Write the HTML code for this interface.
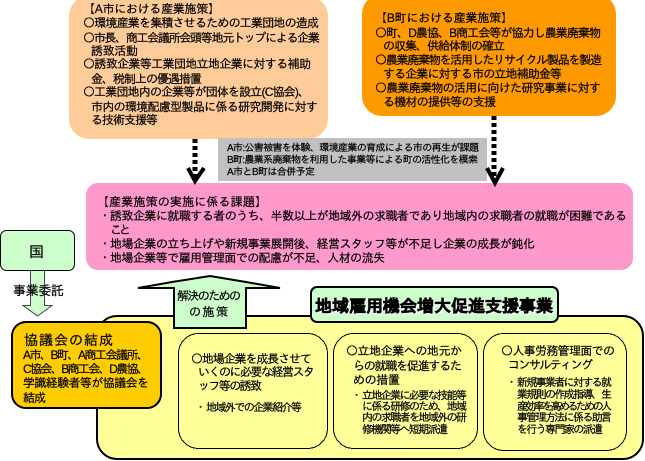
<!DOCTYPE html>
<html lang="ja">
<head>
<meta charset="utf-8">
<title>地域雇用機会増大促進支援事業</title>
<style>
html,body{margin:0;padding:0;background:#fff;width:645px;height:461px;overflow:hidden}
svg{display:block}
text{font-family:"Liberation Sans","IPAGothic","Noto Sans CJK JP",sans-serif;font-size:12px;fill:#000;stroke:#000;stroke-width:.2px}
.g{font-size:10px}
.s{font-size:11px}
.m{font-size:13px}
.k{font-size:15px}
.l{font-size:14px}
.t{font-size:17px;font-weight:bold;stroke:#000;stroke-width:.6px}
.h{font-size:17px;font-weight:bold;fill:#fff;stroke:#fff;stroke-width:1px}
.b{stroke:#000}
</style>
</head>
<body>
<svg width="645" height="461" viewBox="0 0 645 461" xmlns="http://www.w3.org/2000/svg">
<rect width="645" height="461" fill="#fff"/>

<!-- top boxes -->
<rect x="69" y="-4" width="259" height="143" rx="20" fill="#FFCC99"/>
<rect x="362" y="-6" width="254" height="122" rx="20" fill="#FF9900"/>

<!-- grey note -->
<rect x="218" y="138" width="269" height="43" fill="#C0C0C0"/>

<!-- pink -->
<rect x="86" y="183" width="547" height="87" rx="12" fill="#FF99CC"/>

<!-- dotted arrows -->
<line x1="195" y1="139" x2="195" y2="180" stroke="#000" stroke-width="5" stroke-dasharray="4 3"/>
<polyline points="188,168 195,181 204,168" fill="none" stroke="#000" stroke-width="4"/>
<line x1="494" y1="116" x2="494" y2="180" stroke="#000" stroke-width="5" stroke-dasharray="4 3"/>
<polyline points="487,168 495,183 503,168" fill="none" stroke="#000" stroke-width="4"/>

<!-- yellow panel -->
<rect x="97" y="316" width="546" height="143" rx="20" fill="#FFFF99" stroke="#000" stroke-width="2"/>

<!-- 国 box and arrow -->
<polygon points="30.5,270 44.5,270 44.5,305.5 52,305.5 37.5,316 23,305.5 30.5,305.5" fill="#CCFFCC" stroke="#444" stroke-width="1"/>
<rect x="0.5" y="230.5" width="74" height="40" rx="6" fill="#CCFFCC" stroke="#000" stroke-width="1"/>

<!-- orange box -->
<rect x="12" y="322" width="149" height="86" rx="14" fill="#FFCC00" stroke="#000" stroke-width="2"/>

<!-- up arrow -->
<polygon points="174,328 174,288 138,288 172,282 210,276 246,282 280,288 246,288 246,328" fill="#CCFFCC" stroke="#000" stroke-width="2" stroke-linejoin="miter"/>

<!-- title box -->
<rect x="311" y="287" width="247" height="35" rx="6" fill="#CCFFCC" stroke="#000" stroke-width="2"/>

<!-- inner rounded boxes -->
<rect x="178.5" y="333.5" width="149" height="115" rx="20" fill="#FFFF99" stroke="#000" stroke-width="1" shape-rendering="crispEdges"/>
<rect x="333.5" y="333.5" width="144" height="115" rx="20" fill="#FFFF99" stroke="#000" stroke-width="1" shape-rendering="crispEdges"/>
<rect x="483.5" y="333.5" width="143" height="117" rx="20" fill="#FFFF99" stroke="#000" stroke-width="1" shape-rendering="crispEdges"/>

<!-- A -->
<text x="83" y="13" textLength="137" lengthAdjust="spacing">【A市における産業施策】</text>
<text x="83" y="27" textLength="236" lengthAdjust="spacing">〇環境産業を集積させるための工業団地の造成</text>
<text x="83" y="42" textLength="237" lengthAdjust="spacing">〇市長、商工会議所会頭等地元トップによる企業</text>
<text x="91" y="55" textLength="47" lengthAdjust="spacing">誘致活動</text>
<text x="83" y="68" textLength="228" lengthAdjust="spacing">〇誘致企業等工業団地立地企業に対する補助</text>
<text x="91" y="83" textLength="111" lengthAdjust="spacing">金、税制上の優遇措置</text>
<text x="83" y="96" textLength="227" lengthAdjust="spacing">〇工業団地内の企業等が団体を設立(C協会)、</text>
<text x="91" y="111" textLength="227" lengthAdjust="spacing">市内の環境配慮型製品に係る研究開発に対す</text>
<text x="91" y="124" textLength="67" lengthAdjust="spacing">る技術支援等</text>

<!-- B -->
<text x="375" y="22" textLength="138" lengthAdjust="spacing">【B町における産業施策】</text>
<text x="375" y="37" textLength="226" lengthAdjust="spacing">〇町、D農協、B商工会等が協力し農業廃棄物</text>
<text x="383" y="50" textLength="122" lengthAdjust="spacing">の収集、供給体制の確立</text>
<text x="375" y="64" textLength="227" lengthAdjust="spacing">〇農業廃棄物を活用したリサイクル製品を製造</text>
<text x="383" y="78" textLength="179" lengthAdjust="spacing">する企業に対する市の立地補助金等</text>
<text x="375" y="92" textLength="226" lengthAdjust="spacing">〇農業廃棄物の活用に向けた研究事業に対す</text>
<text x="383" y="106" textLength="113" lengthAdjust="spacing">る機材の提供等の支援</text>

<!-- grey -->
<text class="g" x="227" y="151" textLength="252" lengthAdjust="spacing">A市:公害被害を体験、環境産業の育成による市の再生が課題</text>
<text class="g" x="227" y="163" textLength="251" lengthAdjust="spacing">B町:農業系廃棄物を利用した事業等による町の活性化を模索</text>
<text class="g" x="227" y="175" textLength="88" lengthAdjust="spacing">A市とB町は合併予定</text>

<!-- pink text -->
<text x="97" y="206" textLength="170" lengthAdjust="spacing">【産業施策の実施に係る課題】</text>
<text x="99" y="220">・</text>
<text x="110" y="220" textLength="517" lengthAdjust="spacing">誘致企業に就職する者のうち、半数以上が地域外の求職者であり地域内の求職者の就職が困難である</text>
<text x="110" y="234" textLength="21" lengthAdjust="spacing">こと</text>
<text x="99" y="248">・</text>
<text x="110" y="248" textLength="425" lengthAdjust="spacing">地場企業の立ち上げや新規事業展開後、経営スタッフ等が不足し企業の成長が鈍化</text>
<text x="99" y="262">・</text>
<text x="110" y="262" textLength="275" lengthAdjust="spacing">地場企業等で雇用管理面での配慮が不足、人材の流失</text>

<!-- left -->
<text class="k" x="29" y="257">国</text>
<text class="m" x="13" y="295" textLength="51" lengthAdjust="spacing">事業委託</text>
<text class="l" x="24" y="345" textLength="89" lengthAdjust="spacing">協議会の結成</text>
<text x="23" y="359" textLength="126" lengthAdjust="spacing">A市、B町、A商工会議所、</text>
<text x="23" y="373" textLength="126" lengthAdjust="spacing">C協会、B商工会、D農協、</text>
<text x="23" y="387" textLength="126" lengthAdjust="spacing">学識経験者等が協議会を</text>
<text x="23" y="402" textLength="23" lengthAdjust="spacing">結成</text>

<!-- up arrow text -->
<text x="177" y="300" textLength="64" lengthAdjust="spacing">解決のための</text>
<text x="189" y="316" textLength="39" lengthAdjust="spacing">の施策</text>

<!-- title -->
<text class="h" x="316" y="313" textLength="238" lengthAdjust="spacing" aria-hidden="true">地域雇用機会増大促進支援事業</text>
<text class="t" x="315" y="312" textLength="238" lengthAdjust="spacing">地域雇用機会増大促進支援事業</text>

<!-- inner 1 -->
<text x="191" y="363" textLength="121" lengthAdjust="spacing">〇地場企業を成長させて</text>
<text x="198" y="376" textLength="117" lengthAdjust="spacing">いくのに必要な経営スタ</text>
<text x="198" y="390" textLength="64" lengthAdjust="spacing">ッフ等の誘致</text>
<text class="s" x="195" y="411">・</text>
<text class="s" x="206" y="411" textLength="96" lengthAdjust="spacing">地域外での企業紹介等</text>

<!-- inner 2 -->
<text x="346" y="355" textLength="116" lengthAdjust="spacing">〇立地企業への地元か</text>
<text x="353" y="370" textLength="109" lengthAdjust="spacing">らの就職を促進するた</text>
<text x="353" y="384" textLength="47" lengthAdjust="spacing">めの措置</text>
<text class="s" x="351" y="399">・</text>
<text class="s" x="362" y="399" textLength="105" lengthAdjust="spacing">立地企業に必要な技能等</text>
<text class="s" x="362" y="410" textLength="105" lengthAdjust="spacing">に係る研修のため、地域</text>
<text class="s" x="362" y="421" textLength="105" lengthAdjust="spacing">内の求職者を地域外の研</text>
<text class="s" x="362" y="433" textLength="86" lengthAdjust="spacing">修機関等へ短期派遣</text>

<!-- inner 3 -->
<text x="501" y="355" textLength="114" lengthAdjust="spacing">〇人事労務管理面での</text>
<text x="508" y="369" textLength="85" lengthAdjust="spacing">コンサルティング</text>
<text class="s" x="506" y="386">・</text>
<text class="s" x="517" y="386" textLength="95" lengthAdjust="spacing">新規事業者に対する就</text>
<text class="s" x="517" y="398" textLength="95" lengthAdjust="spacing">業規則の作成指導、生</text>
<text class="s" x="517" y="410" textLength="95" lengthAdjust="spacing">産効率を高めるための人</text>
<text class="s" x="517" y="421" textLength="95" lengthAdjust="spacing">事管理方法に係る助言</text>
<text class="s" x="517" y="433" textLength="86" lengthAdjust="spacing">を行う専門家の派遣</text>
</svg>
</body>
</html>
